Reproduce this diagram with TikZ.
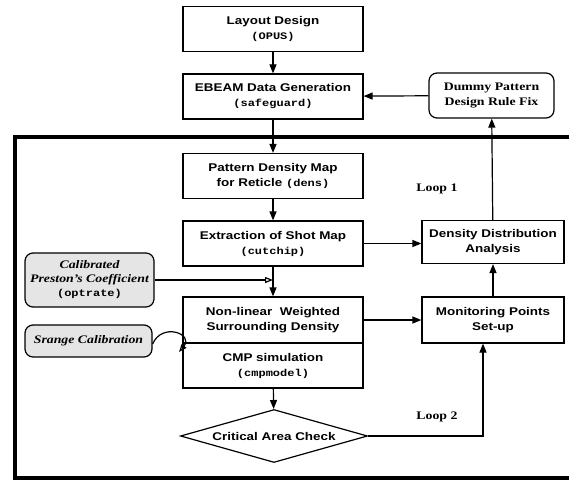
\documentclass[tikz,border=0pt]{standalone}
\usepackage{fontspec}
\setmainfont{Liberation Serif}[FakeStretch=1.2]
\setsansfont{Liberation Sans}[FakeStretch=1.2]
\setmonofont{Liberation Mono}[FakeStretch=1.2]
\usetikzlibrary{arrows.meta,shapes.geometric}
\newcommand{\prog}[1]{{\fontsize{10}{15}\selectfont\ttfamily\bfseries #1}}

\begin{document}
\begin{tikzpicture}[x=1pt,y=-1pt,line width=1.2pt,
sanstext/.style={font=\fontsize{11.2}{15}\selectfont\sffamily\bfseries},
box/.style={draw, sanstext, minimum width=180pt, minimum height=45pt, inner sep=2pt, align=center},
sidebox/.style={box, minimum width=142pt},
note/.style={draw, rounded corners=8pt, fill=gray!20, inner sep=2pt, align=center, font=\fontsize{11.5}{14}\selectfont\rmfamily\bfseries\itshape},
looplabel/.style={font=\fontsize{11.5}{14}\selectfont\rmfamily\bfseries},
arr/.style={-{Triangle[length=9pt,width=7pt]}},
openarr/.style={-{Triangle[open,length=8pt,width=6pt]}}]
\useasboundingbox (0,0) rectangle (569,481);

% frame around the simulation part
\draw[line width=4pt] (569,137) -- (15,137) -- (15,478) -- (569,478);

% main column
\node[box] (layout) at (273,29) {Layout Design\\\prog{(OPUS)}};
\node[box] (ebeam) at (273,96.5) {EBEAM Data Generation\\\prog{(safeguard)}};
\node[box] (pattern) at (273,176) {Pattern Density Map\\for Reticle \prog{(dens)}};
\node[box] (extract) at (273,243.5) {Extraction of Shot Map\\\prog{(cutchip)}};
\node[box, minimum height=46pt] (nonlin) at (273,320) {Non-linear\ \ Weighted\\Surrounding Density};
\node[box] (cmp) at (273,365.5) {CMP simulation\\\prog{(cmpmodel)}};
\node[draw, diamond, sanstext, aspect=3.5, inner sep=0pt, minimum width=187pt, minimum height=53pt] (check) at (274,436) {Critical Area Check};

% right column
\node[draw, rounded corners=8pt, minimum width=125pt, minimum height=45pt, inner sep=2pt, align=center, font=\fontsize{11.5}{15}\selectfont\rmfamily\bfseries] (dummy) at (491.5,95.5) {Dummy Pattern\\Design Rule Fix};
\node[sidebox, minimum height=43pt] (density) at (493,242) {Density Distribution\\Analysis};
\node[sidebox, minimum height=46pt] (monitor) at (493,320) {Monitoring Points\\Set-up};

% calibration inputs
\node[note, minimum width=129pt, minimum height=54pt] (calib) at (89.5,280) {Calibrated\\Preston's Coefficient\\{\upshape\prog{(optrate)}}};
\node[note, minimum width=127pt, minimum height=32pt] (srange) at (88.5,341) {Srange Calibration};

\node[looplabel] (loopA) at (437,189) {Loop 1};
\node[looplabel] (loopB) at (437,417) {Loop 2};
\coordinate (corner) at (483,436);

\draw[arr] (layout) -- (ebeam);
\draw[arr] (ebeam) -- (pattern);
\draw[arr] (pattern) -- (extract);
\draw[arr] (extract) -- (nonlin);
\draw[arr] (cmp) -- (check);
\draw[openarr] (calib.east) -- (calib.east -| extract.south);
\draw[arr] (extract.east) -- (extract.east -| density.west);
\draw[arr] (nonlin.east) -- (monitor.west);
\draw[arr] (monitor) -- (density);
\draw[arr] (density) -- (dummy);
\draw[arr] (dummy) -- (ebeam);
\draw[arr] (check.east) -- (corner) -- (corner |- monitor.south);
\draw[openarr] ([yshift=-3pt]srange.east) .. controls (162,322) and (194,334) .. (179,352);
\end{tikzpicture}
\end{document}
